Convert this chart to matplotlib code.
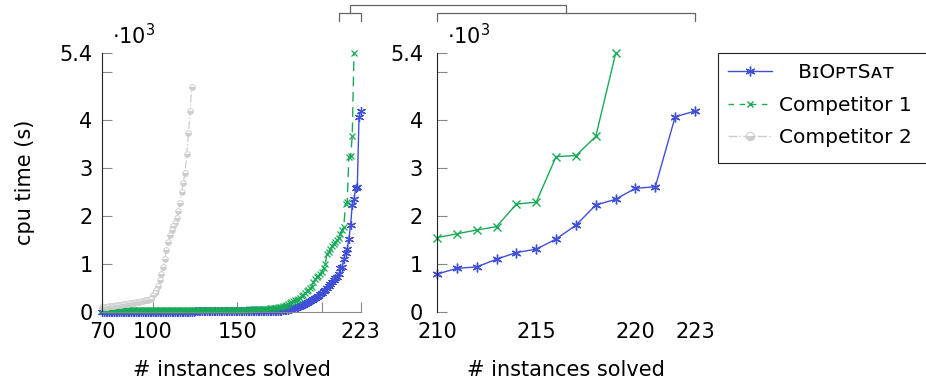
import matplotlib
matplotlib.use("Agg")
import matplotlib.pyplot as plt
from matplotlib.lines import Line2D
from matplotlib.patches import Rectangle
import numpy as np

plt.rcParams['font.family'] = ['DejaVu Sans']
plt.rcParams['font.size'] = 15
plt.rcParams['mathtext.fontset'] = 'dejavusans'

# cpu time (x1000 s) of the k-th solved instance, starting at instance 70
biopt_time = [
    0.01, 0.01, 0.01, 0.01, 0.01, 0.01, 0.01, 0.01, 0.01, 0.01,  # 70
    0.01, 0.01, 0.01, 0.01, 0.01, 0.01, 0.01, 0.01, 0.01, 0.01,  # 80
    0.01, 0.01, 0.01, 0.01, 0.01, 0.01, 0.01, 0.01, 0.01, 0.01,  # 90
    0.01, 0.01, 0.01, 0.01, 0.01, 0.01, 0.01, 0.01, 0.01, 0.01,  # 100
    0.01, 0.01, 0.01, 0.01, 0.01, 0.01, 0.01, 0.01, 0.01, 0.01,  # 110
    0.01, 0.01, 0.01, 0.01, 0.01, 0.02, 0.02, 0.02, 0.02, 0.02,  # 120
    0.02, 0.02, 0.02, 0.02, 0.02, 0.02, 0.02, 0.02, 0.02, 0.02,  # 130
    0.02, 0.02, 0.02, 0.02, 0.02, 0.02, 0.02, 0.02, 0.02, 0.02,  # 140
    0.02, 0.02, 0.02, 0.02, 0.02, 0.02, 0.02, 0.02, 0.02, 0.02,  # 150
    0.02, 0.02, 0.02, 0.02, 0.02, 0.02, 0.03, 0.03, 0.03, 0.03,  # 160
    0.03, 0.03, 0.03, 0.03, 0.03, 0.03, 0.03, 0.04, 0.04, 0.05,  # 170
    0.05, 0.06, 0.07, 0.08, 0.09, 0.10, 0.11, 0.12, 0.14, 0.15,  # 180
    0.17, 0.19, 0.21, 0.23, 0.25, 0.27, 0.29, 0.31, 0.34, 0.37,  # 190
    0.40, 0.43, 0.46, 0.50, 0.54, 0.58, 0.62, 0.66, 0.70, 0.74,  # 200
    0.79, 0.91, 0.94, 1.10, 1.24, 1.31, 1.52, 1.81, 2.23, 2.35,  # 210
    2.58, 2.61, 4.07, 4.19,                                      # 220
]

comp1_time = [
    0.04, 0.04, 0.04, 0.04, 0.04, 0.04, 0.04, 0.04, 0.04, 0.04,  # 70
    0.04, 0.04, 0.04, 0.04, 0.04, 0.04, 0.04, 0.04, 0.04, 0.04,  # 80
    0.04, 0.04, 0.04, 0.04, 0.04, 0.04, 0.04, 0.04, 0.04, 0.04,  # 90
    0.04, 0.04, 0.04, 0.04, 0.04, 0.04, 0.04, 0.04, 0.04, 0.04,  # 100
    0.04, 0.04, 0.04, 0.04, 0.04, 0.05, 0.05, 0.05, 0.05, 0.05,  # 110
    0.05, 0.05, 0.05, 0.05, 0.05, 0.05, 0.05, 0.05, 0.05, 0.05,  # 120
    0.05, 0.05, 0.05, 0.05, 0.05, 0.05, 0.05, 0.05, 0.05, 0.05,  # 130
    0.05, 0.05, 0.05, 0.05, 0.05, 0.05, 0.05, 0.05, 0.05, 0.05,  # 140
    0.05, 0.05, 0.05, 0.05, 0.05, 0.05, 0.05, 0.06, 0.06, 0.06,  # 150
    0.06, 0.06, 0.06, 0.06, 0.06, 0.07, 0.07, 0.07, 0.07, 0.08,  # 160
    0.08, 0.08, 0.09, 0.09, 0.10, 0.10, 0.11, 0.12, 0.13, 0.14,  # 170
    0.16, 0.18, 0.20, 0.22, 0.24, 0.26, 0.28, 0.30, 0.33, 0.36,  # 180
    0.40, 0.43, 0.46, 0.49, 0.52, 0.62, 0.68, 0.72, 0.76, 0.80,  # 190
    0.84, 0.92, 1.00, 1.20, 1.26, 1.32, 1.38, 1.42, 1.46, 1.50,  # 200
    1.55, 1.63, 1.71, 1.78, 2.25, 2.29, 3.24, 3.26, 3.66, 5.39,  # 210
]

comp2_time = [
    0.10, 0.10, 0.11, 0.11, 0.12, 0.12, 0.13, 0.13, 0.14, 0.14,  # 70
    0.15, 0.15, 0.16, 0.16, 0.17, 0.17, 0.18, 0.18, 0.19, 0.19,  # 80
    0.20, 0.20, 0.21, 0.22, 0.23, 0.24, 0.25, 0.26, 0.27, 0.28,  # 90
    0.35, 0.40, 0.46, 0.55, 0.67, 0.80, 0.94, 1.10, 1.29, 1.45,  # 100
    1.60, 1.72, 1.80, 1.86, 1.95, 2.10, 2.27, 2.50, 2.70, 2.89,  # 110
    3.30, 3.73, 4.20, 4.70,                                      # 120
]

first_solved = 70
biopt_x = np.arange(first_solved, first_solved + len(biopt_time))
comp1_x = np.arange(first_solved, first_solved + len(comp1_time))
comp2_x = np.arange(first_solved, first_solved + len(comp2_time))

labels = ['   BɪOᴘᴛSᴀᴛ', 'Competitor 1', 'Competitor 2']
left_xticks = [70, 100, 150, 200, 223]
left_xlabels = ['70', '100', '150', '', '223']
right_xticks = [210, 215, 220, 223]
yticks = [0, 1, 2, 3, 4, 5, 5.4]
ylabels = ['0', '1', '2', '3', '4', '', '5.4']

blue = '#3f4fd6'
green = '#19aa58'
gray = '#cdcdcd'
asterisk = (6, 2, 0)

W, H = 926, 382
fig = plt.figure(figsize=(W / 100, H / 100), dpi=100)
bottom = (H - 312) / H
height = (312 - 53) / H
ax1 = fig.add_axes([102.3 / W, bottom, 258.4 / W, height])
ax2 = fig.add_axes([437 / W, bottom, 258 / W, height])

ax1.plot(biopt_x, biopt_time, color=blue, lw=1, marker=asterisk, ms=6.5, mew=0.9, clip_on=False)
ax1.plot(comp1_x, comp1_time, color=green, lw=1, ls=(0, (7, 4)), marker='x', ms=5, mew=0.9, clip_on=False)
ax1.plot(comp2_x, comp2_time, color=gray, lw=0.9, ls='-.', marker='o', ms=4, mew=0.7,
         fillstyle='bottom', markerfacecoloralt='white', clip_on=False)

r_b = biopt_x >= 210
r_c = comp1_x >= 210
ax2.plot(biopt_x[r_b], np.array(biopt_time)[r_b], color=blue, lw=1, marker=asterisk, ms=7, mew=1, clip_on=False)
ax2.plot(comp1_x[r_c], np.array(comp1_time)[r_c], color=green, lw=1, marker='x', ms=6, mew=1, clip_on=False)

for ax in (ax1, ax2):
    ax.set_ylim(0, 5.4)
    ax.set_yticks(yticks)
    ax.set_yticklabels(ylabels)
    for s in ('top', 'right'):
        ax.spines[s].set_visible(False)
    ax.spines['left'].set_color('#222222')
    ax.spines['left'].set_linewidth(0.8)
    ax.tick_params(axis='y', direction='in', length=7, width=0.8, color='#888888')
    ax.text(0.038, 1.035, r'$\cdot10^3$', transform=ax.transAxes, ha='left', va='baseline')

ax1.set_xlim(70, 223)
ax1.set_xticks(left_xticks)
ax1.set_xticklabels(left_xlabels)
ax1.spines['bottom'].set_color('#888888')
ax1.spines['bottom'].set_linewidth(0.8)
ax1.tick_params(axis='x', direction='in', length=7, width=0.8, color='#888888', pad=7)
ax1.tick_params(axis='y', pad=7)
ax1.set_xlabel('# instances solved', labelpad=13)
ax1.set_ylabel('cpu time (s)')
ax1.yaxis.set_label_coords(-0.26, 0.5)

ax2.set_xlim(210, 223)
ax2.set_xticks(right_xticks)
ax2.spines['bottom'].set_visible(False)
ax2.tick_params(axis='x', length=0, pad=7)
ax2.tick_params(axis='y', pad=10)
ax2.set_xlabel('# instances solved', labelpad=13)

# zoom bracket linking the 210..223 range of the left plot to the right plot
p1 = ax1.get_position()
p2 = ax2.get_position()
fx = lambda v: p1.x0 + (v - 70) / (223 - 70) * p1.width
y_br = (H - 13) / H
y_end = (H - 21) / H
y_top = (H - 5) / H
lx0, lx1 = fx(210), fx(223)
rx0, rx1 = p2.x0, p2.x1
lc, rc = (lx0 + lx1) / 2, (rx0 + rx1) / 2
br = dict(color='#666666', lw=0.9, transform=fig.transFigure)
fig.add_artist(Line2D([lx0, lx0, lx1, lx1], [y_end, y_br, y_br, y_end], **br))
fig.add_artist(Line2D([rx0, rx0, rx1, rx1], [y_end, y_br, y_br, y_end], **br))
fig.add_artist(Line2D([lc, lc, rc, rc], [y_br, y_top, y_top, y_br], **br))

handles = [
    Line2D([], [], color=blue, lw=1, marker=asterisk, ms=7, mew=1),
    Line2D([], [], color=green, lw=1, ls=(0, (4, 4)), marker='x', ms=5, mew=1),
    Line2D([], [], color=gray, lw=1, ls='-.', marker='o', ms=6, mew=0.8,
           fillstyle='bottom', markerfacecoloralt='white'),
]
top = (H - 53) / H
leg = fig.legend(handles, labels, loc='upper left', bbox_to_anchor=(718 / W, top),
                 borderaxespad=0, frameon=False,
                 handlelength=2.2, handletextpad=0.35, borderpad=0.5, labelspacing=0.68,
                 fontsize=14.5)
# legend frame runs past the right edge of the figure
fig.add_artist(Rectangle((718 / W, (H - 163) / H), 240 / W, 110 / H, transform=fig.transFigure,
                         fill=False, edgecolor='#222222', lw=0.8))

fig.savefig('out.png', dpi=100)
